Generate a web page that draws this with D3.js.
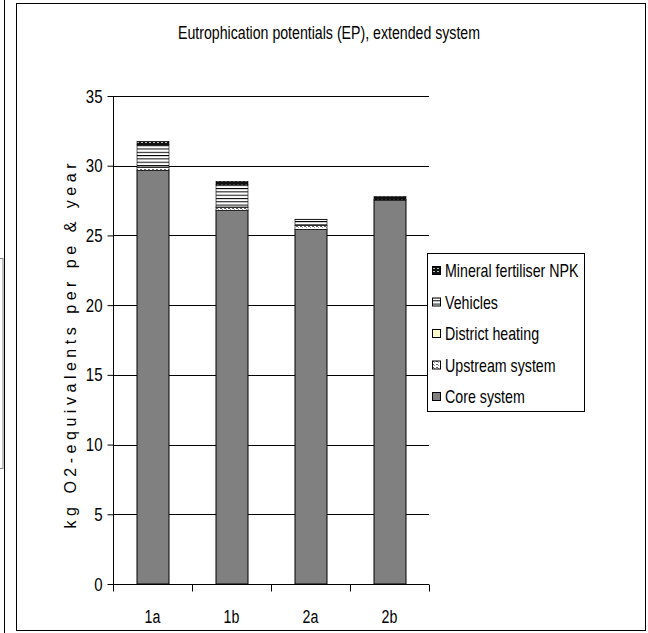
<!DOCTYPE html>
<html><head><meta charset="utf-8">
<script src="https://cdn.jsdelivr.net/npm/d3@7"></script>
<style>
html,body{margin:0;padding:0;background:#fff;}
svg text{font-family:"Liberation Sans",Arial,sans-serif;fill:#000;}
</style></head>
<body>
<script>
const categories = ["1a","1b","2a","2b"];
const seriesNames = ["Core system","Upstream system","District heating","Vehicles","Mineral fertiliser NPK"];
const coreSystem = [29.67, 26.80, 25.44, 27.54];
const upstreamSystem = [0.22, 0.22, 0.26, 0.03];
const districtHeating = [0.02, 0.02, 0.01, 0.0];
const vehicles = [1.6, 1.6, 0.43, 0.0];
const mineralFertiliser = [0.24, 0.24, 0.02, 0.22];
const yTicks = [0,5,10,15,20,25,30,35];
const title = "Eutrophication potentials (EP), extended system";
const yLabel = "kg O2-equivalents per pe & year";

const NARROW = 0.79;
function narrow(sel){
  sel.each(function(){
    const L = this.getComputedTextLength();
    d3.select(this).attr("textLength", L*NARROW).attr("lengthAdjust","spacingAndGlyphs");
  });
}

const W = 648, H = 633;
const svg = d3.select("body").append("svg").attr("width", W).attr("height", H);
const defs = svg.append("defs");

// patterns
const pMin = defs.append("pattern").attr("id","pMin").attr("patternUnits","userSpaceOnUse").attr("width",4).attr("height",3);
pMin.append("rect").attr("width",4).attr("height",3).attr("fill","#111");
pMin.append("rect").attr("x",1).attr("y",1).attr("width",2).attr("height",1).attr("fill","#bbb");
const pVeh = defs.append("pattern").attr("id","pVeh").attr("patternUnits","userSpaceOnUse").attr("width",4).attr("height",3.3);
pVeh.append("rect").attr("width",4).attr("height",3.3).attr("fill","#fff");
pVeh.append("rect").attr("y",0).attr("width",4).attr("height",1).attr("fill","#000");
const pUp = defs.append("pattern").attr("id","pUp").attr("patternUnits","userSpaceOnUse").attr("width",4).attr("height",3);
pUp.append("rect").attr("width",4).attr("height",3).attr("fill","#fff");
pUp.append("rect").attr("x",0).attr("y",1).attr("width",2).attr("height",1).attr("fill","#666");
pUp.append("rect").attr("x",2).attr("y",2).attr("width",1).attr("height",1).attr("fill","#999");

const fills = {
  "Core system":"#808080",
  "Upstream system":"url(#pUp)",
  "District heating":"#FFFFCC",
  "Vehicles":"url(#pVeh)",
  "Mineral fertiliser NPK":"url(#pMin)"
};

// left artifacts & outer frame
svg.append("line").attr("x1",4.5).attr("x2",4.5).attr("y1",0).attr("y2",H).attr("stroke","#000");
svg.append("rect").attr("x",-10).attr("y",258.5).attr("width",13).attr("height",210).attr("fill","none").attr("stroke","#888");
svg.append("rect").attr("x",16.5).attr("y",3.5).attr("width",629).attr("height",627).attr("fill","none").attr("stroke","#000");

const x = d3.scaleBand().domain(categories).range([113,429]).paddingInner(0.595).paddingOuter(0.2975);
const y = d3.scaleLinear().domain([0,35]).range([584,96]);

// gridlines
svg.append("g").selectAll("line").data(yTicks.filter(d=>d>0)).join("line")
  .attr("x1",113).attr("x2",429).attr("y1",d=>Math.round(y(d))+0.5).attr("y2",d=>Math.round(y(d))+0.5)
  .attr("stroke","#000");

// stack
const rows = categories.map((c,i)=>({cat:c,
  "Core system":coreSystem[i],"Upstream system":upstreamSystem[i],"District heating":districtHeating[i],
  "Vehicles":vehicles[i],"Mineral fertiliser NPK":mineralFertiliser[i]}));
const stacked = d3.stack().keys(seriesNames)(rows);
const gBars = svg.append("g");
stacked.forEach(layer=>{
  gBars.selectAll(null).data(layer.filter(d=>d[1]-d[0]>0.001)).join("rect")
    .attr("x",d=>x(d.data.cat)+0.5)
    .attr("width",x.bandwidth())
    .attr("y",d=>y(d[1]))
    .attr("height",d=>Math.max(0,y(d[0])-y(d[1])))
    .attr("fill",fills[layer.key])
    .attr("stroke","#000").attr("stroke-width",layer.key==="Core system"?1:0.6);
});

// y axis
const yAxis = d3.axisLeft(y).tickValues(yTicks).tickSize(6).tickPadding(5);
const gy = svg.append("g").attr("transform","translate(113.5,0)").call(yAxis);
gy.select(".domain").attr("d","M0,"+y(35)+"V"+y(0));
gy.selectAll("text").attr("font-size",19).attr("font-family",null).call(narrow);
gy.selectAll("line,path").attr("stroke","#000");

// x axis
const xAxis = d3.axisBottom(x).tickSize(0);
const gx = svg.append("g").attr("transform","translate(0,584.5)").call(xAxis);
gx.select(".domain").attr("d","M113,0H429");
gx.selectAll("text").attr("font-size",18).attr("font-family",null).attr("y",38.5).attr("dy",0).call(narrow);
gx.selectAll("line,path").attr("stroke","#000");
// category separator ticks
const step = x.step();
const sepX = d3.range(categories.length+1).map(i=>113+i*step);
gx.selectAll(".sep").data(sepX).join("line").attr("class","sep")
  .attr("x1",d=>Math.round(d)+0.5).attr("x2",d=>Math.round(d)+0.5).attr("y1",0).attr("y2",7).attr("stroke","#000");

// title
svg.append("text").attr("x",329).attr("y",39).attr("text-anchor","middle").attr("font-size",17.5)
  .attr("textLength",302).attr("lengthAdjust","spacingAndGlyphs").text(title);

// y label
svg.append("text").attr("transform","translate(76,346) rotate(-90)").attr("text-anchor","middle")
  .attr("font-size",16).attr("textLength",365).attr("lengthAdjust","spacing").text(yLabel);

// legend
const lg = svg.append("g");
lg.append("rect").attr("x",427.5).attr("y",253.5).attr("width",157).attr("height",158).attr("fill","#fff").attr("stroke","#000");
const legOrder = seriesNames.slice().reverse();
const legY = d3.scalePoint().domain(legOrder).range([271,397]);
legOrder.forEach(k=>{
  lg.append("rect").attr("x",432.5).attr("y",legY(k)-4.5).attr("width",8).attr("height",8).attr("fill",fills[k]).attr("stroke","#000");
  lg.append("text").attr("transform","translate(445,"+(legY(k)+6)+") scale("+NARROW+",1)").attr("font-size",18).text(k);
});
</script>
</body></html>
